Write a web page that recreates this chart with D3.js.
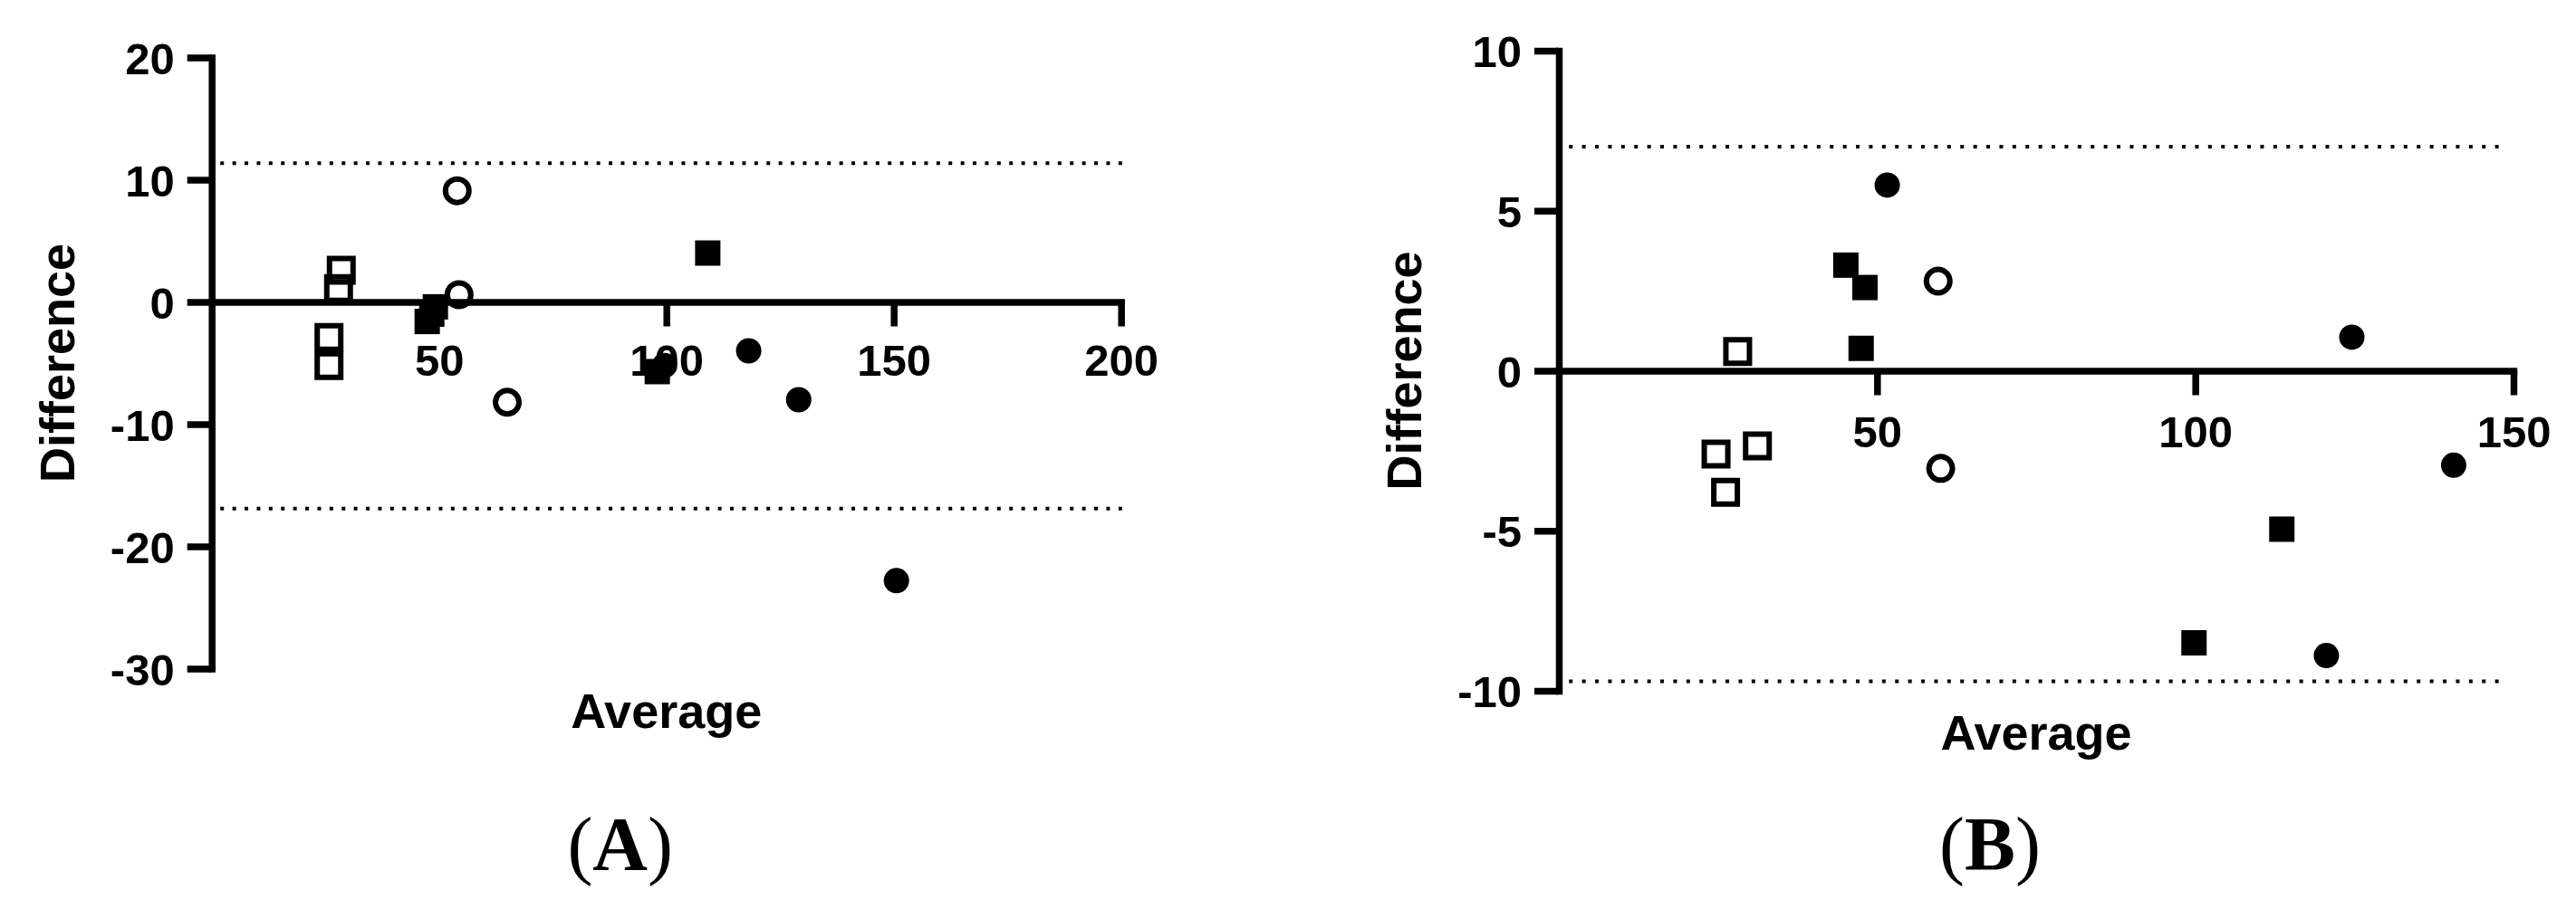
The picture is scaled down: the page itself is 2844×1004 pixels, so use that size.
<!DOCTYPE html>
<html>
<head>
<meta charset="utf-8">
<script src="https://cdn.jsdelivr.net/npm/d3@7"></script>
<style>
  body { margin: 0; background: #fff; }
  text { fill: #000; }
  .tick text, .axis-title { font-family: "Liberation Sans", Arial, sans-serif; font-weight: bold; }
  .panel-label { font-family: "Liberation Serif", "Times New Roman", serif; }
</style>
</head>
<body>
<script>
var width = 2844,
  height = 1004;

// panel A : average vs difference
var openSquaresA = [[28.5, 2.6], [27.9, 1.1], [25.8, -2.9], [25.8, -5.2]];
var filledSquaresA = [[49.2, -0.4], [48.4, -1.0], [47.4, -1.6], [98.0, -5.7], [109.1, 4.0]];
var openCirclesA = [[54.0, 9.1], [54.4, 0.6], [65.0, -8.2]];
var filledCirclesA = [[99.6, -5.2], [118.1, -4.0], [129.1, -8.0], [150.6, -22.8]];
var limitsA = [11.35, -16.9];
var xTicksA = [50, 100, 150, 200];
var yTicksA = [-30, -20, -10, 0, 10, 20];

// panel B
var openSquaresB = [[28.1, 0.6], [24.7, -2.6], [31.2, -2.35], [26.2, -3.8]];
var filledSquaresB = [[45.1, 3.3], [48.1, 2.6], [47.5, 0.7], [99.8, -8.5], [113.6, -4.95]];
var openCirclesB = [[59.6, 2.8], [60.0, -3.05]];
var filledCirclesB = [[51.6, 5.8], [124.6, 1.05], [140.6, -2.95], [120.6, -8.9]];
var limitsB = [7.0, -9.7];
var xTicksB = [50, 100, 150];
var yTicksB = [-10, -5, 0, 5, 10];

var panels = [
  {
    label: "A",
    x: d3.scaleLinear().domain([0, 200]).range([233.7, 1237.7]),
    y: d3.scaleLinear().domain([-30, 20]).range([738.5, 63.5]),
    xTicks: xTicksA, yTicks: yTicksA, limits: limitsA, limitExtent: [1.9, 202],
    dash: "4,9.4", xPad: 20,
    series: [
      { pts: openSquaresA, shape: d3.symbolSquare, open: true },
      { pts: filledSquaresA, shape: d3.symbolSquare, open: false },
      { pts: openCirclesA, shape: d3.symbolCircle, open: true },
      { pts: filledCirclesA, shape: d3.symbolCircle, open: false }
    ]
  },
  {
    label: "B",
    x: d3.scaleLinear().domain([0, 150]).range([1721, 2775]),
    y: d3.scaleLinear().domain([-10, 10]).range([763, 56]),
    xTicks: xTicksB, yTicks: yTicksB, limits: limitsB, limitExtent: [1.6, 149],
    dash: "4,10.4", xPad: 23,
    series: [
      { pts: openSquaresB, shape: d3.symbolSquare, open: true },
      { pts: filledSquaresB, shape: d3.symbolSquare, open: false },
      { pts: openCirclesB, shape: d3.symbolCircle, open: true },
      { pts: filledCirclesB, shape: d3.symbolCircle, open: false }
    ]
  }
];

var svg = d3.select("body")
  .append("svg")
  .attr("width", width)
  .attr("height", height);

svg.append("rect")
  .attr("width", width)
  .attr("height", height)
  .style("fill", "white");

var fmt = function(d) { return String(d); };   // plain hyphen for negatives

function markerSize(shape, open) {
  if (shape === d3.symbolSquare) return open ? 26 * 26 : 28 * 28;
  return open ? Math.PI * 13 * 13 : Math.PI * 14 * 14;
}

panels.forEach(function(p) {
  var g = svg.append("g").attr("class", "panel");
  var x0 = p.x.range()[0], x1 = p.x.range()[1];
  var yTop = p.y.range()[1], yBot = p.y.range()[0];

  // limits of agreement
  g.selectAll(".limit")
    .data(p.limits)
    .enter().append("line")
    .attr("class", "limit")
    .attr("x1", p.x(p.limitExtent[0]))
    .attr("x2", p.x(p.limitExtent[1]))
    .attr("y1", function(d) { return p.y(d); })
    .attr("y2", function(d) { return p.y(d); })
    .style("stroke", "#000")
    .style("stroke-width", 4)
    .style("stroke-dasharray", p.dash);

  var yAxis = g.append("g")
    .attr("transform", "translate(" + x0 + ",0)")
    .call(d3.axisLeft(p.y).tickValues(p.yTicks).tickFormat(fmt)
      .tickSize(27).tickSizeOuter(0).tickPadding(14));

  var xAxis = g.append("g")
    .attr("transform", "translate(0," + p.y(0) + ")")
    .call(d3.axisBottom(p.x).tickValues(p.xTicks).tickFormat(fmt)
      .tickSize(27).tickSizeOuter(0).tickPadding(p.xPad));

  [yAxis, xAxis].forEach(function(ax) {
    ax.select(".domain")
      .style("stroke", "#000")
      .style("stroke-width", 7.5)
      .style("stroke-linecap", "square");
    ax.selectAll(".tick line")
      .style("stroke", "#000")
      .style("stroke-width", 7.5);
    ax.selectAll(".tick text")
      .style("font-size", "49px")
      .style("fill", "#000");
  });
  yAxis.selectAll(".tick text").attr("dy", "0.36em");

  // data points
  p.series.forEach(function(s) {
    g.selectAll(null)
      .data(s.pts)
      .enter().append("path")
      .attr("d", d3.symbol().type(s.shape).size(markerSize(s.shape, s.open)))
      .attr("transform", function(d) { return "translate(" + p.x(d[0]) + "," + p.y(d[1]) + ")"; })
      .style("fill", s.open ? "none" : "#000")
      .style("stroke", s.open ? "#000" : "none")
      .style("stroke-width", s.open ? 6 : 0);
  });

  // axis titles
  g.append("text")
    .attr("class", "axis-title")
    .attr("transform", "translate(" + (x0 - 152) + "," + ((yTop + yBot) / 2) + ") rotate(-90)")
    .attr("text-anchor", "middle")
    .style("font-size", "54px")
    .text("Difference");

  g.append("text")
    .attr("class", "axis-title")
    .attr("x", (x0 + x1) / 2)
    .attr("y", yBot + 65)
    .attr("text-anchor", "middle")
    .style("font-size", "54px")
    .text("Average");

  var lab = g.append("text")
    .attr("class", "panel-label")
    .attr("x", (x0 + x1) / 2 - 51)
    .attr("y", 961)
    .attr("text-anchor", "middle")
    .style("font-size", "84px");
  lab.append("tspan").text("(");
  lab.append("tspan").style("font-weight", "bold").text(p.label);
  lab.append("tspan").text(")");
});
</script>
</body>
</html>
